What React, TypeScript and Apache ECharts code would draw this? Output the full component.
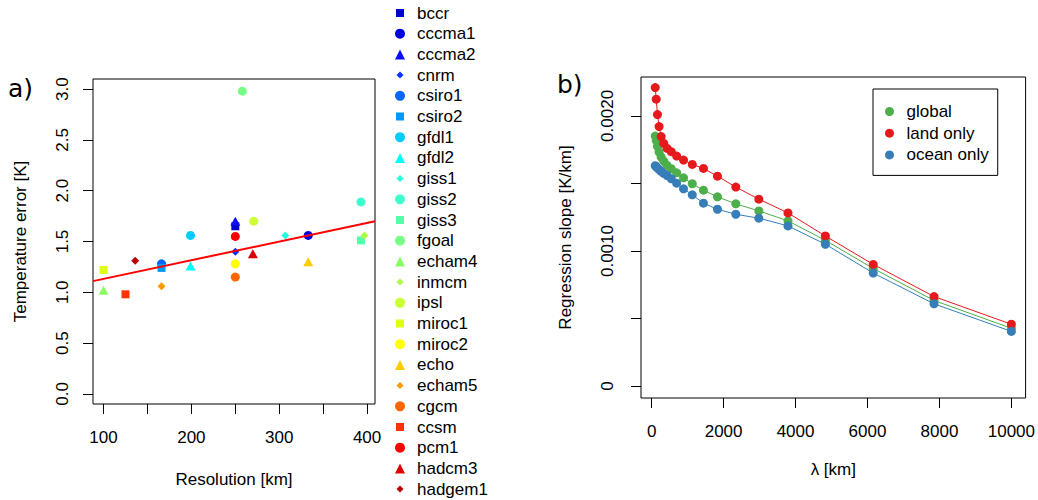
import React, { useEffect, useRef } from "react";
import * as echarts from "echarts";

const FONT = '"Liberation Sans", Arial, Helvetica, sans-serif';

// ---- Panel a) ----
const models = [
  "bccr", "cccma1", "cccma2", "cnrm", "csiro1", "csiro2", "gfdl1", "gfdl2",
  "giss1", "giss2", "giss3", "fgoal", "echam4", "inmcm", "ipsl", "miroc1",
  "miroc2", "echo", "echam5", "cgcm", "ccsm", "pcm1", "hadcm3", "hadgem1",
];
const modelColors = [
  "#0000CC", "#0000E0", "#0A0AFF", "#0033FF", "#0066FF", "#0099FF", "#00CCFF", "#00FFFF",
  "#22FFDD", "#40FFCC", "#55FFAA", "#77FF88", "#88FF66", "#AAFF44", "#CCFF33", "#DDFF11",
  "#FFFF00", "#FFCC00", "#FF9900", "#FF6600", "#FF3300", "#FF0000", "#DD0000", "#BB0000",
];
const modelSymbols = [
  "rect", "circle", "triangle", "diamond", "circle", "rect", "circle", "triangle",
  "diamond", "circle", "rect", "circle", "triangle", "diamond", "circle", "rect",
  "circle", "triangle", "diamond", "circle", "rect", "circle", "triangle", "diamond",
];
const resolutionKm = [
  250, 333, 250, 250, 166, 166, 199, 199,
  307, 393, 393, 258, 100, 397, 271, 100,
  250, 333, 166, 250, 125, 250, 270, 136,
];
const temperatureError = [
  1.65, 1.56, 1.70, 1.40, 1.28, 1.24, 1.56, 1.26,
  1.56, 1.89, 1.51, 2.98, 1.02, 1.56, 1.70, 1.22,
  1.28, 1.30, 1.06, 1.15, 0.98, 1.55, 1.38, 1.31,
];
const regressionLine = [
  [88, 1.11],
  [409, 1.70],
];
const resTicks = [100, 150, 200, 250, 300, 350, 400];
const resLabels = [100, 200, 300, 400];
const errTicks = [0, 0.5, 1.0, 1.5, 2.0, 2.5, 3.0];

// ---- Panel b) ----
const lambdaKm = [
  100, 127, 162, 207, 264, 336, 428, 546, 695, 886,
  1130, 1440, 1830, 2340, 2980, 3790, 4830, 6160, 7850, 10000,
];
const slopeGlobal = [
  0.001851, 0.001819, 0.001775, 0.001733, 0.001696, 0.001666, 0.001634, 0.001609, 0.001579, 0.001542,
  0.001498, 0.001450, 0.001401, 0.001349, 0.001297, 0.001223, 0.001079, 0.000871, 0.000634, 0.000428,
];
const slopeLand = [
  0.002210, 0.002124, 0.002010, 0.001921, 0.001847, 0.001797, 0.001760, 0.001735, 0.001703, 0.001673,
  0.001641, 0.001611, 0.001554, 0.001473, 0.001384, 0.001282, 0.001111, 0.000901, 0.000663, 0.000458,
];
const slopeOcean = [
  0.001631, 0.001624, 0.001614, 0.001604, 0.001589, 0.001574, 0.001559, 0.001535, 0.001502, 0.001460,
  0.001416, 0.001354, 0.001309, 0.001272, 0.001243, 0.001186, 0.001050, 0.000837, 0.000609, 0.000405,
];
const slopeNames = ["global", "land only", "ocean only"];
const slopeColors = ["#4DAF4A", "#E41A1C", "#377EB8"];
const lambdaTicks = [0, 2000, 4000, 6000, 8000, 10000];
const slopeTicks = [0, 0.0005, 0.001, 0.0015, 0.002];
const slopeLabels = [0, 0.001, 0.002];

const symbolSizes: Record<string, number | number[]> = {
  rect: 8,
  circle: 9,
  triangle: [10, 9],
  diamond: 8,
};

// legend icons padded inside a 10x10 box (invisible move-to corners keep the box)
const legendIcons: Record<string, string> = {
  rect: "path://M0,0M10,10M1,1L9,1L9,9L1,9Z",
  circle: "circle",
  triangle: "triangle",
  diamond: "path://M0,0M10,10M5,1.5L8.5,5L5,8.5L1.5,5Z",
};

export default function App() {
  const ref = useRef<HTMLDivElement>(null);
  useEffect(() => {
    document.body.style.margin = "0";
    const chart = echarts.init(ref.current!, null, { renderer: "svg" });

    const axisCommon = {
      type: "value",
      splitLine: { show: false },
      axisLine: { show: false, onZero: false },
      nameLocation: "middle",
      nameTextStyle: { fontSize: 17, color: "#000", fontFamily: FONT },
    };

    const modelSeries = models.map((name, i) => ({
      type: "scatter",
      name,
      xAxisIndex: 0,
      yAxisIndex: 0,
      data: [[resolutionKm[i], temperatureError[i]]],
      symbol: modelSymbols[i],
      symbolSize: symbolSizes[modelSymbols[i]],
      itemStyle: { color: modelColors[i], opacity: 1 },
      emphasis: { disabled: true },
      z: 3,
    }));

    const slopeData = [slopeGlobal, slopeLand, slopeOcean];
    const slopeSeries = slopeNames.map((name, k) => ({
      type: "line",
      name,
      xAxisIndex: 1,
      yAxisIndex: 1,
      data: lambdaKm.map((x, i) => [x, slopeData[k][i]]),
      symbol: "circle",
      symbolSize: 9,
      showSymbol: true,
      lineStyle: { width: 1, color: slopeColors[k] },
      itemStyle: { color: slopeColors[k] },
      emphasis: { disabled: true },
      z: 3 + k,
    }));

    const option = {
      animation: false,
      textStyle: { fontFamily: FONT },
      grid: [
        { left: 93, top: 79, width: 282, height: 325, show: true, borderColor: "#000", borderWidth: 1, backgroundColor: "transparent" },
        { left: 641, top: 77, width: 385, height: 321, show: true, borderColor: "#000", borderWidth: 1, backgroundColor: "transparent" },
      ],
      xAxis: [
        {
          ...axisCommon,
          gridIndex: 0,
          min: 88,
          max: 409,
          axisTick: { show: true, length: 10, lineStyle: { color: "#000" }, customValues: resTicks },
          axisLabel: { customValues: resLabels, fontSize: 17, color: "#000", margin: 25, formatter: (v: number) => String(v) },
          name: "Resolution [km]",
          nameGap: 67,
        },
        {
          ...axisCommon,
          gridIndex: 1,
          min: -296,
          max: 10396,
          axisTick: { show: true, length: 10, lineStyle: { color: "#000" }, customValues: lambdaTicks },
          axisLabel: { customValues: lambdaTicks, fontSize: 17, color: "#000", margin: 25, formatter: (v: number) => String(v) },
          name: "λ [km]",
          nameGap: 63,
        },
      ],
      yAxis: [
        {
          ...axisCommon,
          gridIndex: 0,
          min: -0.1,
          max: 3.1,
          axisTick: { show: true, length: 10, lineStyle: { color: "#000" }, customValues: errTicks },
          axisLabel: {
            customValues: errTicks,
            fontSize: 17,
            color: "#000",
            margin: 22,
            rotate: 90,
            formatter: (v: number) => v.toFixed(1),
          },
          name: "Temperature error [K]",
          nameGap: 64,
        },
        {
          ...axisCommon,
          gridIndex: 1,
          min: -0.000088,
          max: 0.002288,
          axisTick: { show: true, length: 10, lineStyle: { color: "#000" }, customValues: slopeTicks },
          axisLabel: {
            customValues: slopeLabels,
            fontSize: 17,
            color: "#000",
            margin: 25,
            rotate: 90,
            formatter: (v: number) => (v === 0 ? "0" : v.toFixed(4)),
          },
          name: "Regression slope [K/km]",
          nameGap: 67,
        },
      ],
      legend: [
        {
          orient: "vertical",
          left: 395,
          top: 4.5,
          padding: 0,
          itemWidth: 10,
          itemHeight: 10,
          itemGap: 3.7,
          selectedMode: false,
          textStyle: { fontSize: 17, color: "#000", lineHeight: 17, padding: [0, 0, 0, 7], fontFamily: FONT },
          data: models.map((name, i) => ({ name, icon: legendIcons[modelSymbols[i]] })),
        },
        {
          orient: "vertical",
          left: 873,
          top: 89,
          padding: [14, 9, 12, 12],
          borderColor: "#000",
          borderWidth: 1,
          itemWidth: 9,
          itemHeight: 9,
          itemGap: 4.7,
          selectedMode: false,
          textStyle: { fontSize: 17, color: "#000", lineHeight: 17, padding: [0, 0, 0, 7.5], fontFamily: FONT },
          data: slopeNames.map((name) => ({ name, icon: "circle" })),
        },
      ],
      graphic: [
        {
          type: "text",
          left: 8,
          top: 76,
          style: { text: "a)", fontSize: 25, fill: "#000", fontFamily: '"DejaVu Sans", sans-serif' },
        },
        {
          type: "text",
          left: 557,
          top: 72,
          style: { text: "b)", fontSize: 25, fill: "#000", fontFamily: '"DejaVu Sans", sans-serif' },
        },
      ],
      series: [
        ...modelSeries,
        {
          type: "line",
          name: "regression",
          xAxisIndex: 0,
          yAxisIndex: 0,
          data: regressionLine,
          showSymbol: false,
          symbol: "none",
          lineStyle: { color: "#FF0000", width: 2 },
          emphasis: { disabled: true },
          z: 4,
        },
        ...slopeSeries,
      ],
    };

    chart.setOption(option as any);
    return () => chart.dispose();
  }, []);

  return (
    <div
      ref={ref}
      style={{ position: "absolute", left: 0, top: 0, width: 1038, height: 500, background: "#fff" }}
    />
  );
}
